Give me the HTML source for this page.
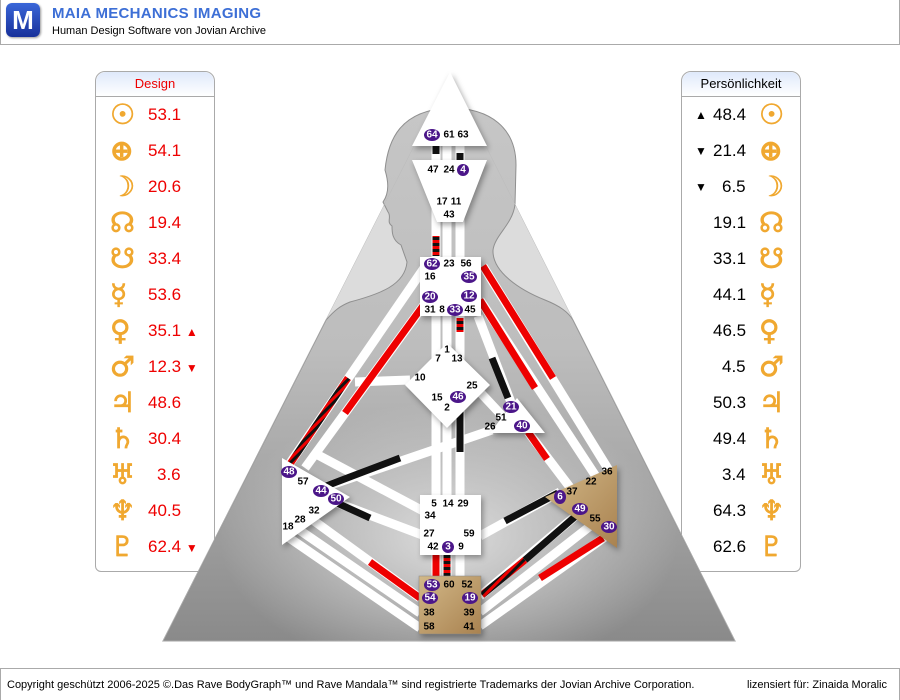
<!DOCTYPE html>
<html><head><meta charset="utf-8"><style>
body{margin:0;width:900px;height:699px;background:#fff;font-family:"Liberation Sans",sans-serif;position:relative;overflow:hidden}
.hdr{position:absolute;left:0;top:0;width:898px;height:44px;border:1px solid #aaa;border-top:none;background:#fff}
.logo{position:absolute;left:5px;top:3px;width:34px;height:34px;border-radius:6px;background:linear-gradient(#3a66d8,#17309a);color:#fff;font:bold 26px "Liberation Sans",sans-serif;text-align:center;line-height:34px;box-shadow:1px 1px 2px #999}
.t1{position:absolute;left:51px;top:5px;color:#3d6fd6;font:bold 15px "Liberation Sans",sans-serif;letter-spacing:.3px}
.t2{position:absolute;left:51px;top:25px;font-size:11px;color:#000}
.panel{position:absolute;top:71px;width:118px;height:499px;border:1px solid #aaa;border-radius:10px 10px 6px 6px;background:#fff}
.ph{height:24px;border-bottom:1px solid #aaa;border-radius:10px 10px 0 0;background:linear-gradient(#dfe9fb,#fff);text-align:center;font-size:13px;line-height:24px}
.row{position:absolute;height:36px;line-height:36px;font-size:17px;width:118px}
.g{position:absolute;color:#f0a830;font-family:"DejaVu Sans",sans-serif;font-size:28px;font-weight:bold;-webkit-text-stroke:0.7px #f0a830}
.foot{position:absolute;left:0;top:668px;width:898px;height:31px;border:1px solid #aaa;border-bottom:none;font-size:11px}
</style></head><body>
<div class="hdr"><div class="logo">M</div><div class="t1">MAIA MECHANICS IMAGING</div><div class="t2">Human Design Software von Jovian Archive</div></div>

<div class="panel" style="left:95px"><div class="ph" style="color:#e00">Design</div></div>
<div class="panel" style="left:681px"><div class="ph">Persönlichkeit</div></div>

<svg width="900" height="699" style="position:absolute;left:0;top:0">
<defs>
<linearGradient id="body" x1="0" y1="0" x2="0" y2="1"><stop offset="0" stop-color="#c6c6c6"/><stop offset=".45" stop-color="#bdbdbd"/><stop offset="1" stop-color="#8a8a8a"/></linearGradient>
<radialGradient id="glow" cx=".5" cy=".7" r=".4"><stop offset="0" stop-color="#dcdcdc"/><stop offset="1" stop-color="#dcdcdc" stop-opacity="0"/></radialGradient>
<linearGradient id="tan" x1="0" y1="0" x2="1" y2="1"><stop offset="0" stop-color="#d2b888"/><stop offset="1" stop-color="#a98250"/></linearGradient>
<pattern id="st" width="6" height="6" patternUnits="userSpaceOnUse" patternTransform="rotate(45)"><rect width="3" height="6" fill="#e00"/><rect x="3" width="3" height="6" fill="#111"/></pattern>
<pattern id="sh" width="6" height="6" patternUnits="userSpaceOnUse"><rect width="6" height="3" fill="#e00"/><rect y="3" width="6" height="3" fill="#111"/></pattern>
</defs>
<polygon points="163,641 735,641 450,75" fill="#dcdcdc"/>
<path d="M450,108 C490,108 516,128 516,165 L515,205 C512,225 495,235 493,250 C492,272 520,290 545,300 C560,306 568,312 573,320 L735,641 L163,641 L326,320 C335,310 340,306 350,302 C380,294 405,285 407,262 L401,245 C392,240 392,232 392,226 C386,222 392,217 388,212 L383,202 C390,192 388,180 385,170 C388,140 400,110 450,108 Z" fill="url(#body)" stroke="#8f8f8f" stroke-width="1"/>
<polygon points="163,641 735,641 450,75" fill="none" stroke="#bbb" stroke-width="0.5"/>
<rect x="163" y="300" width="572" height="341" fill="url(#glow)"/>
<g stroke="#fff" stroke-width="9" fill="none" stroke-linecap="butt">
<line x1="424" y1="268" x2="288" y2="466"/>
<line x1="426" y1="302" x2="305" y2="468"/>
<line x1="410" y1="380" x2="355" y2="382"/>
<line x1="483" y1="266" x2="610" y2="472"/>
<line x1="480" y1="300" x2="597" y2="478"/>
<line x1="478" y1="316" x2="512" y2="405"/>
<line x1="478" y1="390" x2="508" y2="422"/>
<line x1="492" y1="430" x2="322" y2="488"/>
<line x1="528" y1="432" x2="572" y2="490"/>
<line x1="318" y1="455" x2="425" y2="512"/>
<line x1="335" y1="502" x2="425" y2="536"/>
<line x1="480" y1="536" x2="560" y2="492"/>
<line x1="612" y1="532" x2="480" y2="626"/>
<line x1="598" y1="520" x2="480" y2="612"/>
<line x1="585" y1="508" x2="480" y2="596"/>
<line x1="285" y1="535" x2="420" y2="628"/>
<line x1="295" y1="527" x2="420" y2="613"/>
<line x1="310" y1="518" x2="420" y2="598"/>
<line x1="436" y1="140" x2="436" y2="634"/>
<line x1="447" y1="140" x2="447" y2="634"/>
<line x1="460" y1="140" x2="460" y2="634"/>
</g>
<g stroke-width="7" fill="none">
<line x1="348" y1="378" x2="290" y2="464" stroke="url(#st)"/>
<line x1="425" y1="303" x2="345" y2="413" stroke="#e00"/>
<line x1="483" y1="266" x2="553" y2="378" stroke="#e00"/>
<line x1="480" y1="300" x2="535" y2="388" stroke="#e00"/>
<line x1="492" y1="358" x2="508" y2="398" stroke="#111"/>
<line x1="400" y1="458" x2="326" y2="486" stroke="#111"/>
<line x1="528" y1="432" x2="547" y2="459" stroke="#e00"/>
<line x1="337" y1="503" x2="370" y2="518" stroke="#111"/>
<line x1="505" y1="521" x2="558" y2="493" stroke="#111"/>
<line x1="603" y1="538" x2="540" y2="578" stroke="#e00"/>
<line x1="585" y1="508" x2="525" y2="560" stroke="#111"/>
<line x1="525" y1="560" x2="482" y2="595" stroke="url(#st)"/>
<line x1="370" y1="562" x2="420" y2="598" stroke="#e00"/>
<line x1="436" y1="555" x2="436" y2="576" stroke="#e00"/>
<line x1="447" y1="555" x2="447" y2="576" stroke="url(#sh)"/>
<line x1="460" y1="410" x2="460" y2="452" stroke="#111"/>
<line x1="460" y1="318" x2="460" y2="332" stroke="url(#sh)"/>
<line x1="436" y1="236" x2="436" y2="256" stroke="url(#sh)"/>
<line x1="436" y1="146" x2="436" y2="154" stroke="#111"/>
<line x1="460" y1="153" x2="460" y2="160" stroke="#111"/>
</g>
<g fill="#fff" style="filter:drop-shadow(2px 3px 3px rgba(0,0,0,.35))">
<polygon points="450,72 412,146 487,146"/>
<polygon points="412,160 487,160 463,222 437,222"/>
<rect x="420" y="257" width="61" height="59"/>
<polygon points="447,343 490,385 447,428 405,385"/>
<polygon points="490,433 545,433 517,398"/>
<polygon points="282,458 282,545 350,497"/>
<rect x="420" y="495" width="61" height="60"/>
<polygon points="617,465 617,548 545,497" fill="url(#tan)"/>
<rect x="419" y="576" width="62" height="58" fill="url(#tan)" stroke="#888" stroke-width=".5"/>
</g>
<g font-family="Liberation Sans,sans-serif" font-weight="bold" font-size="10" text-anchor="middle" dominant-baseline="central">
<g fill="#4b1689">
<ellipse cx="432" cy="135" rx="8" ry="6"/><ellipse cx="463" cy="170" rx="6" ry="6"/>
<ellipse cx="432" cy="264" rx="8" ry="6"/><ellipse cx="469" cy="277" rx="8" ry="6"/><ellipse cx="430" cy="297" rx="8" ry="6"/><ellipse cx="469" cy="296" rx="8" ry="6"/><ellipse cx="455" cy="310" rx="8" ry="6"/>
<ellipse cx="458" cy="397" rx="8" ry="6"/><ellipse cx="511" cy="407" rx="8" ry="6"/><ellipse cx="522" cy="426" rx="8" ry="6"/>
<ellipse cx="289" cy="472" rx="8" ry="6"/><ellipse cx="321" cy="491" rx="8" ry="6"/><ellipse cx="336" cy="499" rx="8" ry="6"/>
<ellipse cx="448" cy="547" rx="6" ry="6"/><ellipse cx="560" cy="497" rx="6" ry="7"/><ellipse cx="580" cy="509" rx="8" ry="6"/><ellipse cx="609" cy="527" rx="8" ry="6"/>
<ellipse cx="432" cy="585" rx="8" ry="6"/><ellipse cx="430" cy="598" rx="8" ry="6"/><ellipse cx="470" cy="598" rx="8" ry="6"/>
</g>
<g fill="#fff">
<text x="432" y="135">64</text><text x="463" y="170">4</text><text x="432" y="264">62</text><text x="469" y="277">35</text><text x="430" y="297">20</text><text x="469" y="296">12</text><text x="455" y="310">33</text>
<text x="458" y="397">46</text><text x="511" y="407">21</text><text x="522" y="426">40</text><text x="289" y="472">48</text><text x="321" y="491">44</text><text x="336" y="499">50</text>
<text x="448" y="547">3</text><text x="560" y="497">6</text><text x="580" y="509">49</text><text x="609" y="527">30</text><text x="432" y="585">53</text><text x="430" y="598">54</text><text x="470" y="598">19</text>
</g>
<g fill="#000">
<text x="449" y="135">61</text><text x="463" y="135">63</text><text x="433" y="170">47</text><text x="449" y="170">24</text>
<text x="442" y="202">17</text><text x="456" y="202">11</text><text x="449" y="215">43</text>
<text x="449" y="264">23</text><text x="466" y="264">56</text><text x="430" y="277">16</text><text x="430" y="310">31</text><text x="442" y="310">8</text><text x="470" y="310">45</text>
<text x="447" y="350">1</text><text x="438" y="359">7</text><text x="457" y="359">13</text><text x="420" y="378">10</text><text x="472" y="386">25</text><text x="437" y="398">15</text><text x="447" y="408">2</text>
<text x="501" y="418">51</text><text x="490" y="427">26</text>
<text x="303" y="482">57</text><text x="314" y="511">32</text><text x="300" y="520">28</text><text x="288" y="527">18</text>
<text x="434" y="504">5</text><text x="448" y="504">14</text><text x="463" y="504">29</text><text x="430" y="516">34</text><text x="429" y="534">27</text><text x="469" y="534">59</text><text x="433" y="547">42</text><text x="461" y="547">9</text>
<text x="607" y="472">36</text><text x="591" y="482">22</text><text x="572" y="492">37</text><text x="595" y="519">55</text>
<text x="449" y="585">60</text><text x="467" y="585">52</text><text x="429" y="613">38</text><text x="469" y="613">39</text><text x="429" y="627">58</text><text x="469" y="627">41</text>
</g></g>
</svg>
<div style="position:absolute;left:0;top:0">
<div class="row" style="left:95px;top:97px"><span class="g" style="left:15px">☉</span><span style="position:absolute;left:53px;color:#e00">53.1</span></div>
<div class="row" style="left:95px;top:133px"><span class="g" style="left:15px">⊕</span><span style="position:absolute;left:53px;color:#e00">54.1</span></div>
<div class="row" style="left:95px;top:169px"><span class="g" style="left:15px">☽</span><span style="position:absolute;left:53px;color:#e00">20.6</span></div>
<div class="row" style="left:95px;top:205px"><span class="g" style="left:15px">☊</span><span style="position:absolute;left:53px;color:#e00">19.4</span></div>
<div class="row" style="left:95px;top:241px"><span class="g" style="left:15px">☋</span><span style="position:absolute;left:53px;color:#e00">33.4</span></div>
<div class="row" style="left:95px;top:277px"><span class="g" style="left:15px">☿</span><span style="position:absolute;left:53px;color:#e00">53.6</span></div>
<div class="row" style="left:95px;top:313px"><span class="g" style="left:15px">♀</span><span style="position:absolute;left:53px;color:#e00">35.1 <span style="font-size:12px">▲</span></span></div>
<div class="row" style="left:95px;top:349px"><span class="g" style="left:15px">♂</span><span style="position:absolute;left:53px;color:#e00">12.3 <span style="font-size:12px">▼</span></span></div>
<div class="row" style="left:95px;top:385px"><span class="g" style="left:15px">♃</span><span style="position:absolute;left:53px;color:#e00">48.6</span></div>
<div class="row" style="left:95px;top:421px"><span class="g" style="left:15px">♄</span><span style="position:absolute;left:53px;color:#e00">30.4</span></div>
<div class="row" style="left:95px;top:457px"><span class="g" style="left:15px">♅</span><span style="position:absolute;left:62px;color:#e00">3.6</span></div>
<div class="row" style="left:95px;top:493px"><span class="g" style="left:15px">♆</span><span style="position:absolute;left:53px;color:#e00">40.5</span></div>
<div class="row" style="left:95px;top:529px"><span class="g" style="left:15px">♇</span><span style="position:absolute;left:53px;color:#e00">62.4 <span style="font-size:12px">▼</span></span></div>

<div class="row" style="left:681px;top:97px"><span style="position:absolute;left:14px;font-size:12px">▲</span><span style="position:absolute;left:32px">48.4</span><span class="g" style="left:78px">☉</span></div>
<div class="row" style="left:681px;top:133px"><span style="position:absolute;left:14px;font-size:12px">▼</span><span style="position:absolute;left:32px">21.4</span><span class="g" style="left:78px">⊕</span></div>
<div class="row" style="left:681px;top:169px"><span style="position:absolute;left:14px;font-size:12px">▼</span><span style="position:absolute;left:41px">6.5</span><span class="g" style="left:78px">☽</span></div>
<div class="row" style="left:681px;top:205px"><span style="position:absolute;left:32px">19.1</span><span class="g" style="left:78px">☊</span></div>
<div class="row" style="left:681px;top:241px"><span style="position:absolute;left:32px">33.1</span><span class="g" style="left:78px">☋</span></div>
<div class="row" style="left:681px;top:277px"><span style="position:absolute;left:32px">44.1</span><span class="g" style="left:78px">☿</span></div>
<div class="row" style="left:681px;top:313px"><span style="position:absolute;left:32px">46.5</span><span class="g" style="left:78px">♀</span></div>
<div class="row" style="left:681px;top:349px"><span style="position:absolute;left:41px">4.5</span><span class="g" style="left:78px">♂</span></div>
<div class="row" style="left:681px;top:385px"><span style="position:absolute;left:32px">50.3</span><span class="g" style="left:78px">♃</span></div>
<div class="row" style="left:681px;top:421px"><span style="position:absolute;left:32px">49.4</span><span class="g" style="left:78px">♄</span></div>
<div class="row" style="left:681px;top:457px"><span style="position:absolute;left:41px">3.4</span><span class="g" style="left:78px">♅</span></div>
<div class="row" style="left:681px;top:493px"><span style="position:absolute;left:32px">64.3</span><span class="g" style="left:78px">♆</span></div>
<div class="row" style="left:681px;top:529px"><span style="position:absolute;left:32px">62.6</span><span class="g" style="left:78px">♇</span></div>
</div>
<div class="foot"><span style="position:absolute;left:6px;top:10px">Copyright geschützt 2006-2025 ©.Das Rave BodyGraph™ und Rave Mandala™ sind registrierte Trademarks der Jovian Archive Corporation.</span><span style="position:absolute;left:746px;top:10px">lizensiert für: Zinaida Moralic</span></div>
</body></html>
